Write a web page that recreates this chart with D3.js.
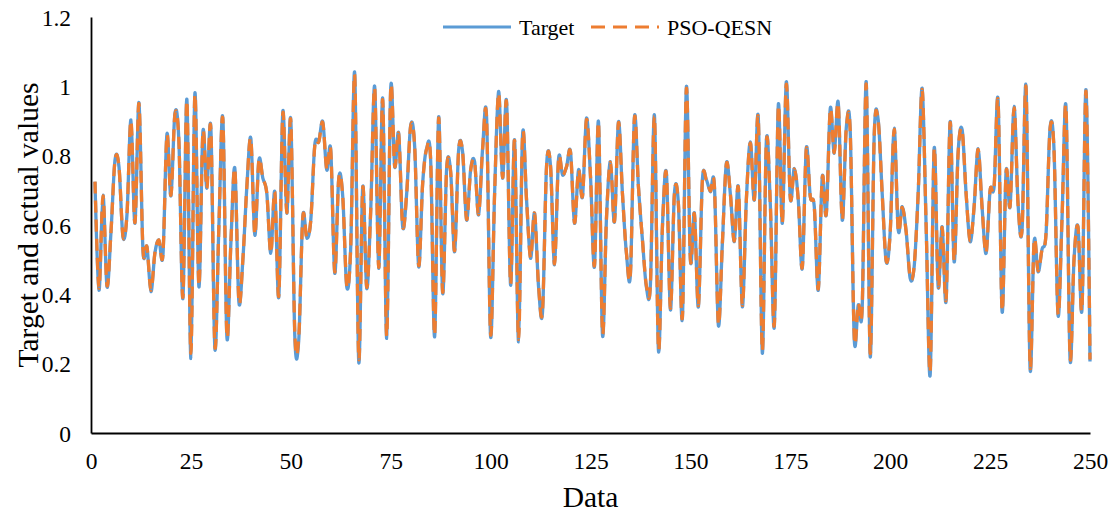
<!DOCTYPE html>
<html>
<head>
<meta charset="utf-8">
<script src="https://cdn.jsdelivr.net/npm/d3@7"></script>
<style>
  body { margin: 0; background: #fff; }
  text { font-family: "Liberation Serif", "Times New Roman", serif; fill: #000; }
</style>
</head>
<body>
<script>
var seriesNames = ["Target", "PSO-QESN"];

var target = [
  0.725,0.412,0.686,0.422,0.58,0.787,0.768,0.566,0.63,0.903,
  0.605,0.953,0.528,0.537,0.408,0.52,0.557,0.513,0.862,0.684,
  0.922,0.84,0.388,0.962,0.215,0.98,0.422,0.869,0.706,0.879,
  0.244,0.595,0.908,0.278,0.547,0.763,0.379,0.499,0.71,0.85,
  0.571,0.787,0.735,0.691,0.518,0.696,0.393,0.927,0.634,0.903,
  0.28,0.27,0.624,0.562,0.614,0.831,0.84,0.898,0.759,0.816,
  0.461,0.735,0.682,0.422,0.537,1.037,0.206,0.71,0.417,0.643,
  0.999,0.475,0.965,0.273,0.994,0.768,0.864,0.595,0.691,0.888,
  0.826,0.48,0.72,0.821,0.787,0.278,0.912,0.403,0.763,0.754,
  0.523,0.816,0.81,0.614,0.759,0.782,0.629,0.82,0.91,0.278,
  0.69,0.985,0.735,0.956,0.427,0.845,0.263,0.86,0.672,0.504,
  0.634,0.422,0.35,0.77,0.77,0.485,0.79,0.744,0.768,0.812,
  0.605,0.759,0.682,0.908,0.74,0.48,0.898,0.283,0.62,0.783,
  0.609,0.898,0.69,0.517,0.46,0.912,0.71,0.557,0.42,0.43,
  0.917,0.239,0.595,0.749,0.355,0.691,0.66,0.331,0.999,0.499,
  0.634,0.364,0.73,0.73,0.696,0.715,0.311,0.547,0.778,0.69,
  0.552,0.71,0.364,0.672,0.84,0.672,0.908,0.23,0.84,0.66,
  0.307,0.946,0.605,1.013,0.677,0.763,0.672,0.475,0.821,0.682,
  0.653,0.412,0.739,0.63,0.936,0.807,0.953,0.614,0.879,0.87,
  0.273,0.369,0.364,1.013,0.22,0.86,0.903,0.69,0.494,0.58,
  0.879,0.586,0.653,0.58,0.446,0.48,0.69,0.994,0.595,0.167,
  0.821,0.422,0.595,0.383,0.898,0.494,0.81,0.875,0.69,0.552,
  0.653,0.82,0.65,0.518,0.70,0.71,0.96,0.35,0.754,0.653,
  0.942,0.66,0.586,0.999,0.187,0.552,0.465,0.53,0.575,0.879,
  0.816,0.34,0.62,0.94,0.215,0.5,0.595,0.358,0.99,0.206
];

var predicted = [
  0.725,0.418,0.684,0.426,0.58,0.785,0.768,0.568,0.63,0.9,
  0.607,0.95,0.53,0.537,0.412,0.52,0.557,0.515,0.858,0.686,
  0.918,0.84,0.392,0.958,0.23,0.975,0.426,0.866,0.706,0.876,
  0.25,0.595,0.904,0.284,0.547,0.76,0.383,0.499,0.71,0.847,
  0.573,0.785,0.735,0.691,0.52,0.694,0.397,0.922,0.636,0.9,
  0.29,0.278,0.622,0.564,0.614,0.828,0.84,0.895,0.761,0.814,
  0.465,0.733,0.682,0.426,0.537,1.03,0.215,0.708,0.421,0.643,
  0.994,0.478,0.96,0.28,0.99,0.77,0.862,0.597,0.691,0.885,
  0.826,0.484,0.72,0.819,0.787,0.284,0.908,0.407,0.761,0.754,
  0.526,0.814,0.81,0.616,0.757,0.78,0.631,0.82,0.906,0.285,
  0.69,0.98,0.737,0.952,0.431,0.843,0.27,0.857,0.672,0.506,
  0.634,0.425,0.354,0.768,0.77,0.488,0.788,0.744,0.768,0.81,
  0.607,0.757,0.684,0.904,0.74,0.484,0.895,0.29,0.62,0.781,
  0.611,0.895,0.69,0.519,0.463,0.908,0.71,0.557,0.424,0.433,
  0.912,0.245,0.595,0.747,0.36,0.689,0.66,0.336,0.993,0.501,
  0.632,0.368,0.728,0.73,0.698,0.713,0.316,0.547,0.776,0.69,
  0.554,0.708,0.368,0.672,0.837,0.674,0.904,0.238,0.837,0.66,
  0.313,0.94,0.607,1.006,0.679,0.761,0.672,0.478,0.818,0.682,
  0.653,0.416,0.737,0.632,0.932,0.809,0.948,0.616,0.876,0.868,
  0.28,0.372,0.367,1.006,0.23,0.857,0.9,0.69,0.497,0.58,
  0.876,0.588,0.651,0.58,0.45,0.482,0.69,0.99,0.595,0.178,
  0.818,0.425,0.593,0.388,0.895,0.497,0.808,0.872,0.69,0.555,
  0.653,0.818,0.65,0.52,0.70,0.71,0.956,0.355,0.752,0.655,
  0.938,0.66,0.588,0.994,0.195,0.55,0.468,0.53,0.575,0.876,
  0.814,0.345,0.62,0.936,0.222,0.5,0.593,0.362,0.985,0.212
];

var xTicks = [0, 25, 50, 75, 100, 125, 150, 175, 200, 225, 250];
var yTicks = [0, 0.2, 0.4, 0.6, 0.8, 1, 1.2];

var width = 1120;
var height = 513;
var margin = {left: 91, right: 30, top: 17, bottom: 80};

var svg = d3.select("body")
    .append("svg")
    .attr("width", width)
    .attr("height", height);

var x = d3.scaleLinear()
    .domain([0, 250])
    .range([margin.left, width - margin.right]);

var y = d3.scaleLinear()
    .domain([0, 1.2])
    .range([height - margin.bottom, margin.top]);

// x positions are the sample numbers 1..250
var idx = target.map((d, i) => i + 1);

var line = d3.line()
    .x((d, i) => x(idx[i]))
    .y(d => y(d))
    .curve(d3.curveCatmullRom.alpha(0));

svg.append("path")
    .datum(target)
    .attr("fill", "none")
    .attr("stroke", "#5b9bd5")
    .attr("stroke-width", 3.3)
    .attr("stroke-linejoin", "round")
    .attr("d", line);

svg.append("path")
    .datum(predicted)
    .attr("fill", "none")
    .attr("stroke", "#ed7d31")
    .attr("stroke-width", 3.3)
    .attr("stroke-dasharray", "12,7")
    .attr("stroke-linejoin", "round")
    .attr("d", line);

var xAxis = svg.append("g")
    .attr("transform", "translate(0," + y(0) + ")")
    .call(d3.axisBottom(x).tickValues(xTicks).tickSize(0).tickPadding(19));

var yAxis = svg.append("g")
    .attr("transform", "translate(" + x(0) + ",0)")
    .call(d3.axisLeft(y).tickValues(yTicks).tickSize(0).tickPadding(20)
        .tickFormat(d3.format("~g")));

[xAxis, yAxis].forEach(a => {
    a.select(".domain").attr("stroke", "#000").attr("stroke-width", 1.8);
    a.selectAll("text")
        .style("font-family", "'Liberation Serif', 'Times New Roman', serif")
        .style("font-size", "23.5px")
        .attr("fill", "#000");
});
yAxis.selectAll("text").attr("dy", "0.35em");

svg.append("text")
    .attr("x", (x(0) + x(250)) / 2)
    .attr("y", 507)
    .attr("text-anchor", "middle")
    .style("font-size", "29.5px")
    .text("Data");

svg.append("text")
    .attr("transform", "translate(38," + ((y(0) + y(1.2)) / 2) + ") rotate(-90)")
    .attr("text-anchor", "middle")
    .style("font-size", "29.5px")
    .text("Target and actual values");

// legend
var legend = svg.append("g");
var legendItems = [
    {name: seriesNames[0], color: "#5b9bd5", dash: null, x0: 443},
    {name: seriesNames[1], color: "#ed7d31", dash: "14,8", x0: 591}
];
legendItems.forEach(it => {
    legend.append("line")
        .attr("x1", it.x0).attr("x2", it.x0 + 68)
        .attr("y1", 27).attr("y2", 27)
        .attr("stroke", it.color)
        .attr("stroke-width", 3)
        .attr("stroke-dasharray", it.dash);
    legend.append("text")
        .attr("x", it.x0 + 76)
        .attr("y", 27)
        .attr("dy", "0.35em")
        .style("font-size", "22px")
        .text(it.name);
});
</script>
</body>
</html>
